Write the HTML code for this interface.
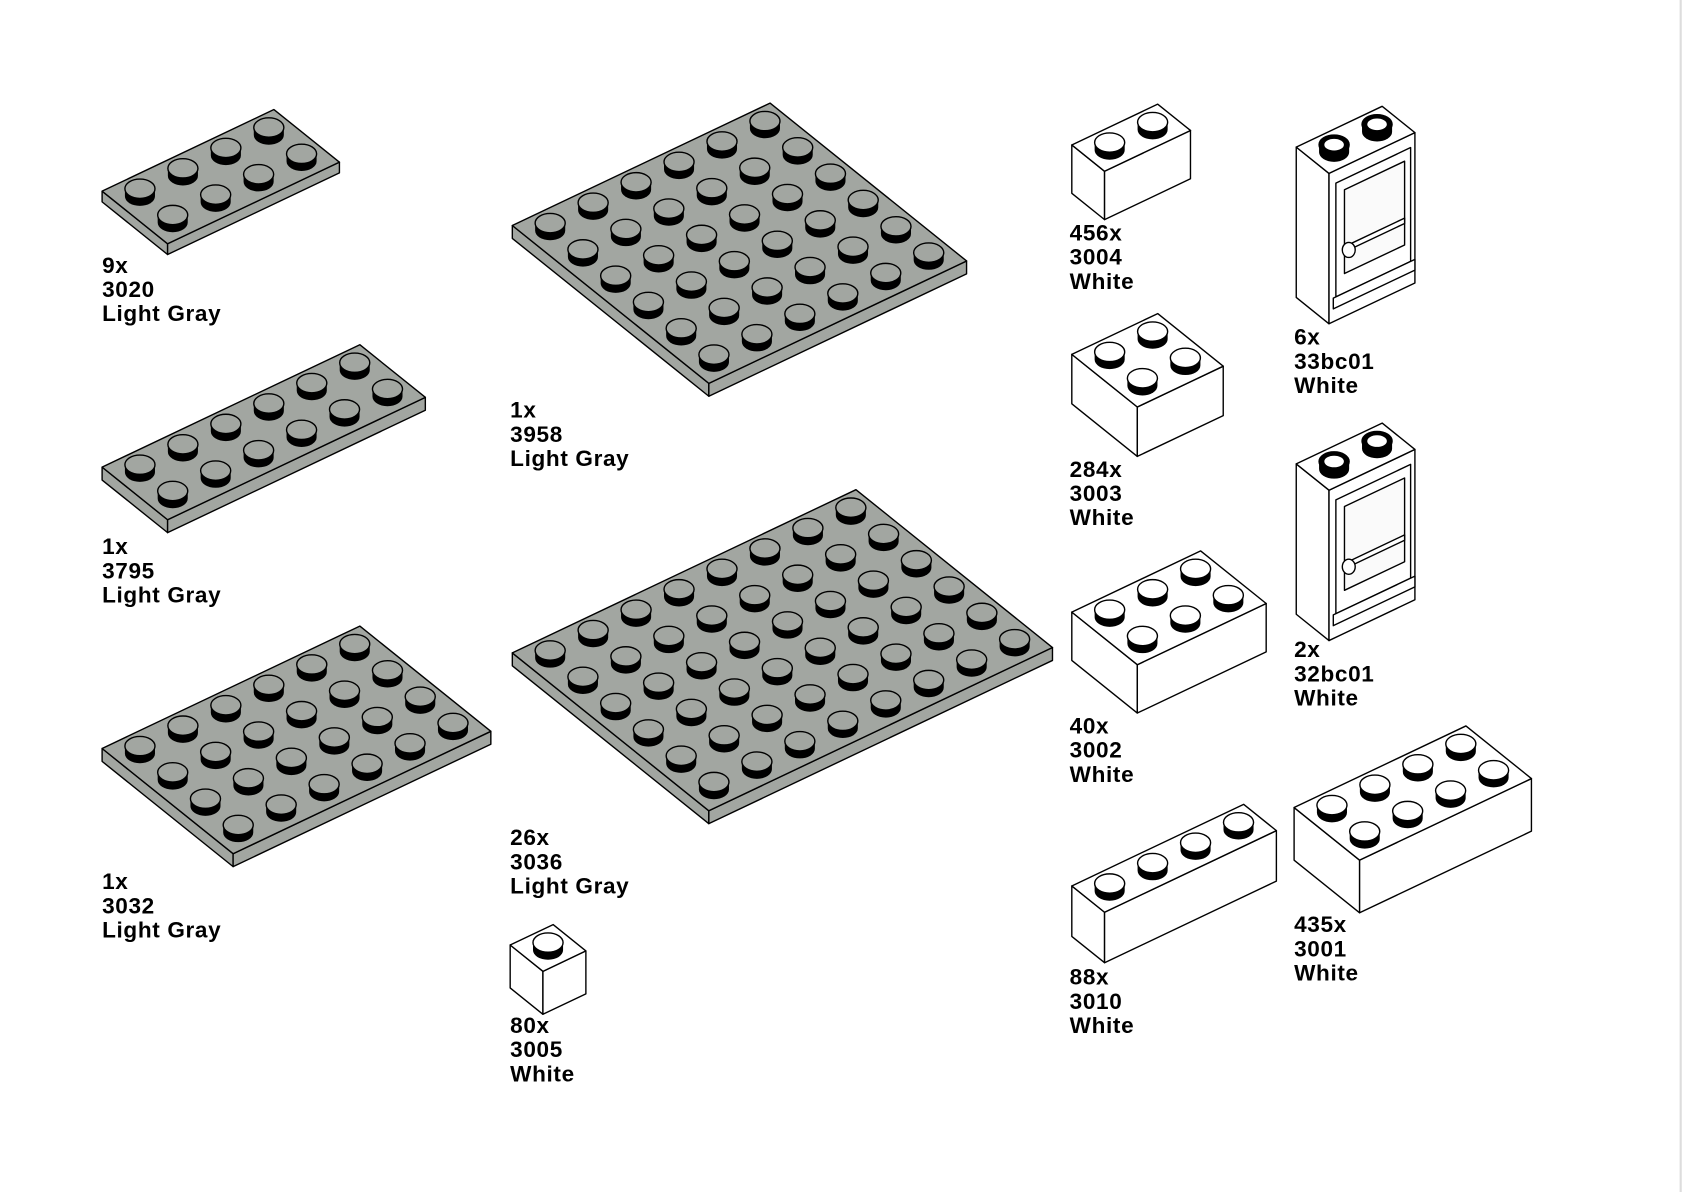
<!DOCTYPE html>
<html><head><meta charset="utf-8"><style>
html,body{margin:0;padding:0;background:#fff;width:1684px;height:1192px;overflow:hidden}
svg text{font-family:"Liberation Sans",sans-serif;font-weight:bold;font-size:21px;letter-spacing:0.6px;fill:#000}
</style></head><body>
<svg id="s" width="1684" height="1192" viewBox="0 0 1568 1110" xmlns="http://www.w3.org/2000/svg">
<rect x="0" y="0" width="1568" height="1110" fill="#fff"/>
<line x1="1565" y1="0" x2="1565" y2="1110" stroke="#ddd" stroke-width="2"/>
</svg>
<script>
var S=document.getElementById('s'),out='';
function P(a){return a.map(function(p){return p[0].toFixed(1)+','+p[1].toFixed(1)}).join(' ');}
function poly(a,f){out+='<polygon points="'+P(a)+'" fill="'+f+'" stroke="#000" stroke-width="1.3" stroke-linejoin="round"/>';}
function part(x,y,nu,nv,s,h,col,hollow){
 var u=[40*s,-19*s],v=[30.5*s,24.5*s];
 var A=[x,y],B=[x+nu*u[0],y+nu*u[1]],C=[B[0]+nv*v[0],B[1]+nv*v[1]],D=[x+nv*v[0],y+nv*v[1]];
 poly([A,D,[D[0],D[1]+h],[A[0],A[1]+h]],col);
 poly([D,C,[C[0],C[1]+h],[D[0],D[1]+h]],col);
 poly([A,B,C,D],col);
 var rx=14*s,ry=9*s,sh=7*s;
 for(var j=0;j<nv;j++)for(var i=nu-1;i>=0;i--){
  var cx=x+(i+.5)*u[0]+(j+.5)*v[0],cy=y+(i+.5)*u[1]+(j+.5)*v[1]+2*s;
  out+='<path d="M'+(cx-rx)+','+(cy-sh)+' L'+(cx-rx)+','+cy+' A'+rx+','+ry+' 0 0 0 '+(cx+rx)+','+cy+' L'+(cx+rx)+','+(cy-sh)+' Z" fill="#000"/>';
  out+='<ellipse cx="'+cx+'" cy="'+(cy-sh)+'" rx="'+rx+'" ry="'+ry+'" fill="'+(hollow?'#000':col)+'" stroke="#000" stroke-width="1.3"/>';
  if(hollow)out+='<ellipse cx="'+cx+'" cy="'+(cy-sh)+'" rx="'+rx*0.65+'" ry="'+ry*0.6+'" fill="#fff"/>';
 }
 return {A:A,B:B,C:C,D:D,u:u,v:v};
}
function door(x,y){
 var r=part(x,y,2,1,1,140,'#fff',true);
 var D=r.D,C=r.C;
 function q(a,b){return [D[0]+(C[0]-D[0])*a, D[1]+(C[1]-D[1])*a+b];}
 poly([q(.08,12),q(.95,12),q(.95,118),q(.08,118)],'#fff');
 poly([q(.18,22),q(.88,22),q(.88,100),q(.18,100)],'#fafafa');
 poly([q(.2,75),q(.88,75),q(.88,80),q(.2,80)],'#fff');
 out+='<ellipse cx="'+q(.23,80)[0]+'" cy="'+q(.23,80)[1]+'" rx="6" ry="7" fill="#fff" stroke="#000" stroke-width="1.3"/>';
 poly([q(.05,118),q(1,118),q(1,128),q(.05,128)],'#fff');
}
var G='#a2a6a1',W='#fff';
part(95,178,4,2,1,10,G);
part(95,435,6,2,1,12,G);
part(95,697,6,4,1,12,G);
part(477,210,6,6,1,12,G);
part(477,608,8,6,1,12,G);
part(475,880,1,1,1,40,W);
part(998,135,2,1,1,45,W);
part(998,330,2,2,1,46,W);
part(998,570,3,2,1,45,W);
part(998,825,4,1,1,47,W);
part(1205,752,4,2,1,49,W);
door(1207,137);
door(1207,432);
function lab(x,y,a){for(var i=0;i<3;i++)out+='<text x="'+x+'" y="'+(y+16+i*22.5)+'">'+a[i]+'</text>';}
lab(95,238,['9x','3020','Light Gray']);
lab(95,500,['1x','3795','Light Gray']);
lab(95,812,['1x','3032','Light Gray']);
lab(475,373,['1x','3958','Light Gray']);
lab(475,771,['26x','3036','Light Gray']);
lab(475,946,['80x','3005','White']);
lab(996,208,['456x','3004','White']);
lab(996,428,['284x','3003','White']);
lab(996,667,['40x','3002','White']);
lab(996,901,['88x','3010','White']);
lab(1205,305,['6x','33bc01','White']);
lab(1205,596,['2x','32bc01','White']);
lab(1205,852,['435x','3001','White']);
S.insertAdjacentHTML('beforeend',out);
</script>
</body></html>
